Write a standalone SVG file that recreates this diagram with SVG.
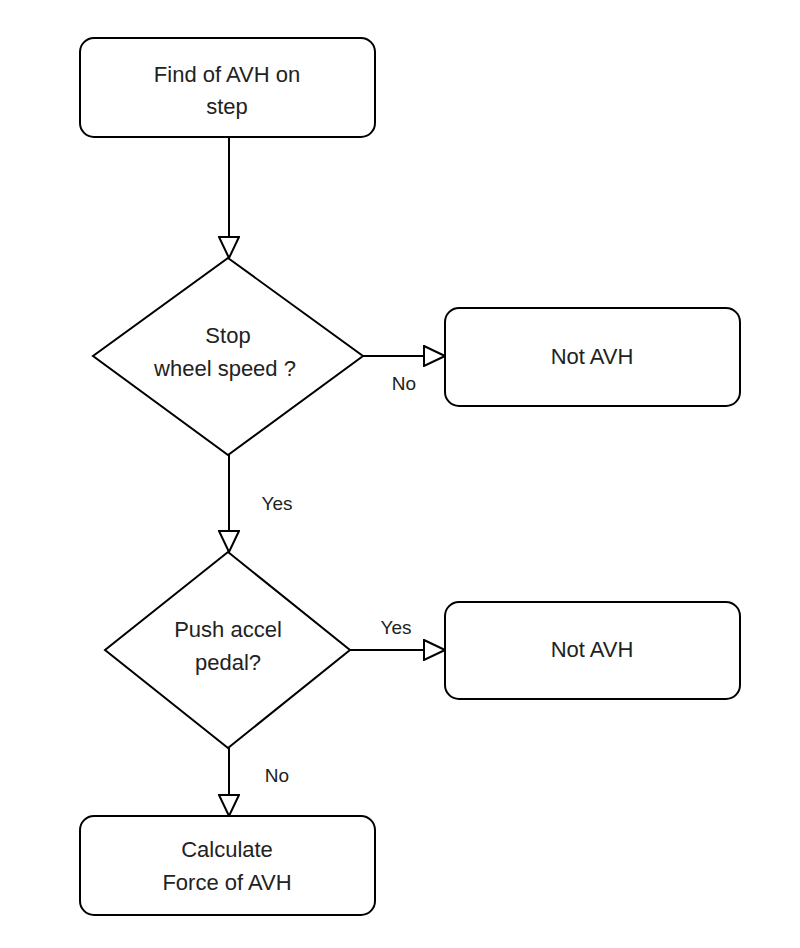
<svg xmlns="http://www.w3.org/2000/svg" width="800" height="948" viewBox="0 0 800 948">
<style>
.s{fill:#fff;stroke:#000;stroke-width:2}
.t{font-family:"Liberation Sans",Arial,sans-serif;font-size:22px;fill:#222;text-anchor:middle}
.l{font-family:"Liberation Sans",Arial,sans-serif;font-size:19px;fill:#222;text-anchor:middle}
.c{fill:none;stroke:#000;stroke-width:2}
</style>
<defs><marker id="a" markerWidth="12" markerHeight="12" refX="11" refY="6" orient="auto" markerUnits="userSpaceOnUse" viewBox="0 0 12 12"><path d="M1,1 L11,6 L1,11 Z" fill="#fff" stroke="#000" stroke-width="1.5"/></marker>
<marker id="b" markerWidth="24" markerHeight="22" refX="22" refY="11" orient="auto" markerUnits="userSpaceOnUse" viewBox="0 0 24 22"><path d="M1,1 L22,11 L1,21 Z" fill="#fff" stroke="#000" stroke-width="2"/></marker></defs>
<g id="connectors">
<path class="c" d="M229,137 V258" marker-end="url(#b)"/>
<path class="c" d="M363,356 H445" marker-end="url(#b)"/>
<path class="c" d="M229,455 V552" marker-end="url(#b)"/>
<path class="c" d="M350,650 H445" marker-end="url(#b)"/>
<path class="c" d="M229,748 V816" marker-end="url(#b)"/>
<text class="l" x="404" y="390">No</text>
<text class="l" x="277" y="510">Yes</text>
<text class="l" x="396" y="634">Yes</text>
<text class="l" x="277" y="782">No</text>
</g>
<g id="n1"><rect class="s" x="80" y="38" width="295" height="99" rx="14"/><text class="t" x="227" y="82">Find of AVH on</text><text class="t" x="227" y="114">step</text></g>
<g id="n2"><path class="s" d="M228,258 L363,356 L228,455 L93,356 Z"/><text class="t" x="228" y="343">Stop</text><text class="t" x="225" y="376">wheel speed ?</text></g>
<g id="n3"><rect class="s" x="445" y="308" width="295" height="98" rx="14"/><text class="t" x="592" y="364">Not AVH</text></g>
<g id="n4"><path class="s" d="M228,552 L350,650 L228,748 L105,650 Z"/><text class="t" x="228" y="637">Push accel</text><text class="t" x="228" y="670">pedal?</text></g>
<g id="n5"><rect class="s" x="445" y="602" width="295" height="97" rx="14"/><text class="t" x="592" y="657">Not AVH</text></g>
<g id="n6"><rect class="s" x="80" y="816" width="295" height="99" rx="14"/><text class="t" x="227" y="857">Calculate</text><text class="t" x="227" y="890">Force of AVH</text></g>
</svg>
